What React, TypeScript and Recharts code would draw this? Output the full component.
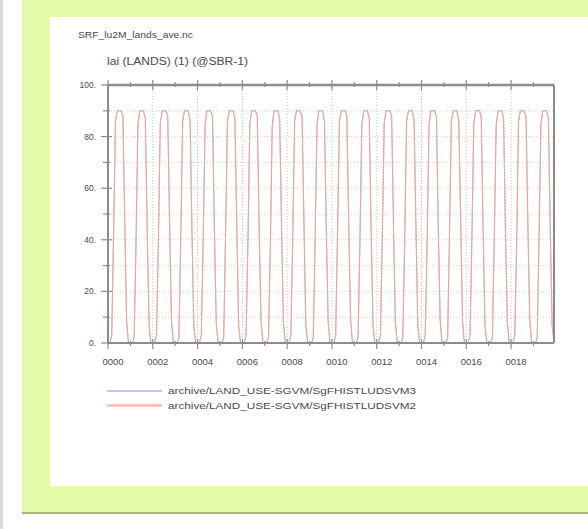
import { FC } from 'react';
import { LineChart, Line, XAxis, YAxis, ReferenceLine } from 'recharts';

// Monthly leaf area index, years 0000-0019 (Jan..Dec per row)
const LAI_SVM2: number[] = [
  0, 0, 3, 42, 86, 90, 90, 90, 88, 46, 8, 0,
  0, 0, 2, 38, 84, 90, 90, 90, 87, 44, 7, 0,
  0, 0, 3, 40, 85, 90, 90, 90, 88, 47, 9, 0,
  0, 0, 2, 41, 86, 90, 90, 90, 86, 43, 6, 0,
  0, 0, 3, 39, 84, 90, 90, 90, 88, 45, 8, 0,
  0, 0, 2, 42, 86, 90, 90, 90, 87, 46, 7, 0,
  0, 0, 3, 40, 85, 90, 90, 90, 88, 44, 9, 0,
  0, 0, 2, 38, 84, 90, 90, 90, 87, 45, 8, 0,
  0, 0, 3, 41, 86, 90, 90, 90, 88, 47, 7, 0,
  0, 0, 2, 40, 85, 90, 90, 90, 86, 43, 8, 0,
  0, 0, 3, 42, 86, 90, 90, 90, 88, 46, 9, 0,
  0, 0, 2, 39, 84, 90, 90, 90, 87, 44, 7, 0,
  0, 0, 3, 41, 85, 90, 90, 90, 88, 45, 8, 0,
  0, 0, 2, 40, 86, 90, 90, 90, 87, 46, 7, 0,
  0, 0, 3, 38, 84, 90, 90, 90, 88, 44, 9, 0,
  0, 0, 2, 42, 86, 90, 90, 90, 86, 47, 8, 0,
  0, 0, 3, 40, 85, 90, 90, 90, 88, 45, 7, 0,
  0, 0, 2, 41, 84, 90, 90, 90, 87, 43, 8, 0,
  0, 0, 3, 39, 86, 90, 90, 90, 88, 46, 9, 0,
  0, 0, 2, 42, 85, 90, 90, 90, 87, 44, 7, 0,
];

// SVM3 run is identical, so it sits hidden under the SVM2 line
const LAI_SVM3: number[] = LAI_SVM2;

const YEAR_TICKS = [0, 1, 2, 3, 4, 5, 6, 7, 8, 9, 10, 11, 12, 13, 14, 15, 16, 17, 18, 19];
const YEAR_LABELS = ['0000', '0002', '0004', '0006', '0008', '0010', '0012', '0014', '0016', '0018'];
const VALUE_TICKS = [0, 10, 20, 30, 40, 50, 60, 70, 80, 90, 100];
const VALUE_LABELS = ['0.', '20.', '40.', '60.', '80.', '100.'];
const GRID_YEARS = [2, 4, 6, 8, 10, 12, 14, 16, 18];
const GRID_VALUES = [10, 20, 30, 40, 50, 60, 70, 80, 90];

const SERIES_NAMES = [
  'archive/LAND_USE-SGVM/SgFHISTLUDSVM3',
  'archive/LAND_USE-SGVM/SgFHISTLUDSVM2',
];

const FONT = '"Liberation Sans", Arial, sans-serif';
const AXIS = '#8c8c8c';
const TEXT = '#4a4a4a';
const BLUE = '#8297d8';
const SALMON = '#efa890';
const X_MAX = 239 / 12;

const data = LAI_SVM2.map((v, i) => ({ t: i / 12, svm2: v, svm3: LAI_SVM3[i] }));

type TickProps = { x: number; y: number; payload: { value: number } };

// crossing tick marks like NCL, labels on major ticks only
const BottomTick = (props: TickProps) => {
  const { x, y, payload } = props;
  const major = payload.value % 2 === 0;
  const idx = payload.value / 2;
  return (
    <g>
      <line x1={x} x2={x} y1={y - (major ? 4 : 2)} y2={y + (major ? 6 : 3)} stroke={AXIS} strokeWidth={1.2} />
      {major && (
        <text x={x + 5} y={y + 22} textAnchor="middle" fontSize={9.5} fill={TEXT} fontFamily={FONT}>
          {YEAR_LABELS[idx]}
        </text>
      )}
    </g>
  );
};

const TopTick = (props: TickProps) => {
  const { x, y, payload } = props;
  const major = payload.value % 2 === 0;
  return <line x1={x} x2={x} y1={y - (major ? 5 : 3)} y2={y + (major ? 5 : 2)} stroke={AXIS} strokeWidth={1.2} />;
};

const LeftTick = (props: TickProps) => {
  const { x, y, payload } = props;
  const major = payload.value % 20 === 0;
  return (
    <g>
      <line x1={x - (major ? 7 : 5)} x2={x + (major ? 4 : 2)} y1={y} y2={y} stroke={AXIS} strokeWidth={1.2} />
      {major && (
        <text x={x - 12} y={y + 3} textAnchor="end" fontSize={8.5} fill={TEXT} fontFamily={FONT}>
          {VALUE_LABELS[payload.value / 20]}
        </text>
      )}
    </g>
  );
};

const RightTick = (props: TickProps) => {
  const { x, y, payload } = props;
  const major = payload.value % 20 === 0;
  return <line x1={x - (major ? 5 : 2)} x2={x + (major ? 5 : 3)} y1={y} y2={y} stroke={AXIS} strokeWidth={1.2} />;
};

const App: FC = () => {
  return (
    <div style={{ position: 'absolute', left: 0, top: 0, width: 588, height: 529, background: '#ffffff', overflow: 'hidden' }}>
      <div style={{ position: 'absolute', left: 0, top: 0, width: 3, height: 529, background: '#d6dce6' }} />
      <div style={{ position: 'absolute', left: 22, top: 0, width: 566, height: 512, background: '#e6fba8', borderBottom: '2px solid #a8b67e' }} />
      <div style={{ position: 'absolute', left: 50, top: 17, width: 538, height: 469, background: '#ffffff' }} />

      <svg style={{ position: 'absolute', left: 0, top: 0 }} width={588} height={529}>
        <text x={78} y={38} fontSize={9.5} fill={TEXT} fontFamily={FONT} textLength={115} lengthAdjust="spacingAndGlyphs">
          SRF_lu2M_lands_ave.nc
        </text>
        <text x={107} y={65} fontSize={10} fill={TEXT} fontFamily={FONT} textLength={141} lengthAdjust="spacingAndGlyphs">
          lai (LANDS) (1) (@SBR-1)
        </text>
        <line x1={107} x2={162} y1={391} y2={391} stroke={BLUE} strokeWidth={1.2} />
        <line x1={107} x2={162} y1={405.5} y2={405.5} stroke="#f4c7b6" strokeWidth={3} />
        <text x={168} y={394} fontSize={9.5} fill={TEXT} fontFamily={FONT} textLength={248} lengthAdjust="spacingAndGlyphs">
          {SERIES_NAMES[0]}
        </text>
        <text x={168} y={408.5} fontSize={9.5} fill={TEXT} fontFamily={FONT} textLength={248} lengthAdjust="spacingAndGlyphs">
          {SERIES_NAMES[1]}
        </text>
      </svg>

      <div style={{ position: 'absolute', left: 0, top: 0 }}>
        <LineChart width={588} height={529} data={data} margin={{ top: 84, right: 33, bottom: 156, left: 48 }}>
          {GRID_YEARS.map((yr) => (
            <ReferenceLine key={`gx-${yr}`} x={yr} stroke="#c4c4c4" strokeDasharray="1 2" />
          ))}
          {GRID_VALUES.map((v) => (
            <ReferenceLine key={`gy-${v}`} y={v} stroke="#d0d0d0" strokeDasharray="1 2" />
          ))}
          <XAxis
            dataKey="t"
            type="number"
            domain={[0, X_MAX]}
            ticks={YEAR_TICKS}
            height={30}
            tickSize={0}
            tickMargin={0}
            tickLine={false}
            axisLine={{ stroke: AXIS, strokeWidth: 2 }}
            tick={BottomTick}
            interval={0}
            allowDataOverflow
          />
          <XAxis
            xAxisId="top"
            orientation="top"
            dataKey="t"
            type="number"
            domain={[0, X_MAX]}
            ticks={YEAR_TICKS}
            height={1}
            tickSize={0}
            tickMargin={0}
            tickLine={false}
            axisLine={{ stroke: AXIS, strokeWidth: 2.5 }}
            tick={TopTick}
            interval={0}
          />
          <YAxis
            type="number"
            domain={[0, 100]}
            ticks={VALUE_TICKS}
            width={60}
            tickSize={0}
            tickMargin={0}
            tickLine={false}
            axisLine={{ stroke: AXIS, strokeWidth: 2 }}
            tick={LeftTick}
            interval={0}
          />
          <YAxis
            yAxisId="right"
            orientation="right"
            type="number"
            domain={[0, 100]}
            ticks={VALUE_TICKS}
            width={1}
            tickSize={0}
            tickMargin={0}
            tickLine={false}
            axisLine={{ stroke: AXIS, strokeWidth: 2 }}
            tick={RightTick}
            interval={0}
          />
          <Line type="linear" dataKey="svm3" stroke={BLUE} strokeWidth={0.6} dot={false} isAnimationActive={false} />
          <Line type="linear" dataKey="svm2" stroke={SALMON} strokeWidth={1.1} dot={false} isAnimationActive={false} />
        </LineChart>
      </div>
    </div>
  );
};

export default App;
